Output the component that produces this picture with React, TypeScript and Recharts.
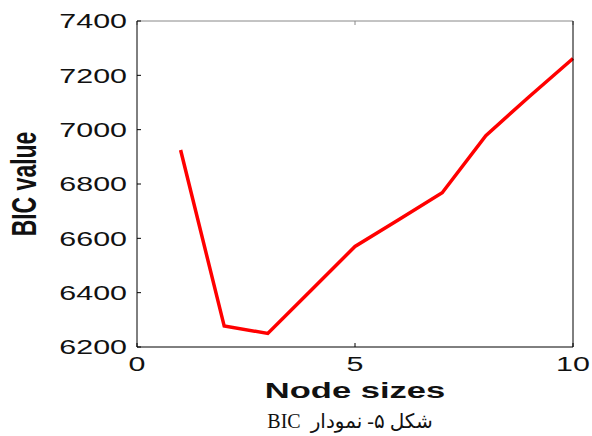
import { Line, LineChart, XAxis, YAxis } from 'recharts';

const nodeSizes = [1, 2, 3, 4, 5, 6, 7, 8, 9, 10];
const bicValues = [6925, 6277, 6250, 6410, 6570, 6668, 6768, 6978, 7122, 7262];
const xTicks = [0, 5, 10];
const yTicks = [6200, 6400, 6600, 6800, 7000, 7200, 7400];

const data = nodeSizes.map((n, i) => ({ n, bic: bicValues[i] }));

const FONT = '"Liberation Sans", Arial, sans-serif';
const STRETCH = 1.45;

// MATLAB export looks squeezed sideways, so the text is stretched to match
function StretchTick(props: any) {
  const { x, y, payload, textAnchor } = props;
  return (
    <text
      transform={`translate(${x},${y}) scale(${STRETCH},1)`}
      textAnchor={textAnchor}
      dy="0.355em"
      fontFamily={FONT}
      fontSize={21}
      fill="#111"
    >
      {payload.value}
    </text>
  );
}

function YTitle(props: any) {
  const vb = props.viewBox || { x: 0, y: 0, height: 0 };
  const cy = vb.y + vb.height / 2;
  return (
    <text
      transform={`translate(36,${cy}) scale(1.5,1) rotate(-90)`}
      textAnchor="middle"
      fontFamily={FONT}
      fontWeight="bold"
      fontSize={23}
      fill="#111"
    >
      BIC value
    </text>
  );
}

function XTitle(props: any) {
  const vb = props.viewBox || { x: 0, y: 0, width: 0 };
  const cx = vb.x + vb.width / 2;
  return (
    <text
      transform={`translate(${cx},398) scale(1.57,1)`}
      textAnchor="middle"
      fontFamily={FONT}
      fontWeight="bold"
      fontSize={22}
      fill="#111"
    >
      Node sizes
    </text>
  );
}

const blank = () => '';

export default function App() {
  return (
    <div style={{ position: 'absolute', left: 0, top: 0, width: 592, height: 436, background: '#fff' }}>
      <LineChart width={592} height={436} data={data} margin={{ top: 0, right: 0, bottom: 0, left: 0 }}>
        <XAxis
          xAxisId="b"
          dataKey="n"
          type="number"
          domain={[0, 10]}
          ticks={xTicks}
          height={89}
          tickSize={-4}
          tickMargin={21}
          stroke="#000"
          tick={<StretchTick />}
          label={<XTitle />}
        />
        <XAxis
          xAxisId="t"
          orientation="top"
          dataKey="n"
          type="number"
          domain={[0, 10]}
          ticks={xTicks}
          height={21}
          tickSize={-4}
          tickFormatter={blank}
          stroke="#888"
        />
        <YAxis
          yAxisId="l"
          domain={[6200, 7400]}
          ticks={yTicks}
          width={137}
          tickSize={-4}
          tickMargin={14}
          stroke="#000"
          tick={<StretchTick />}
          label={<YTitle />}
        />
        <YAxis
          yAxisId="r"
          orientation="right"
          domain={[6200, 7400]}
          ticks={yTicks}
          width={19}
          tickSize={-4}
          tickFormatter={blank}
          stroke="#000"
        />
        <Line
          xAxisId="b"
          yAxisId="l"
          type="linear"
          dataKey="bic"
          stroke="#ff0000"
          strokeWidth={3.5}
          dot={false}
          isAnimationActive={false}
        />
      </LineChart>
      <div
        style={{
          position: 'absolute',
          left: 240,
          top: 411,
          width: 220,
          textAlign: 'center',
          direction: 'rtl',
          whiteSpace: 'nowrap',
          fontFamily: '"Liberation Serif", "DejaVu Sans", serif',
          fontSize: 20,
          lineHeight: 1,
          color: '#111',
        }}
      >
        {'شکل ۵- نمودار\u00a0\u00a0BIC'}
      </div>
    </div>
  );
}
